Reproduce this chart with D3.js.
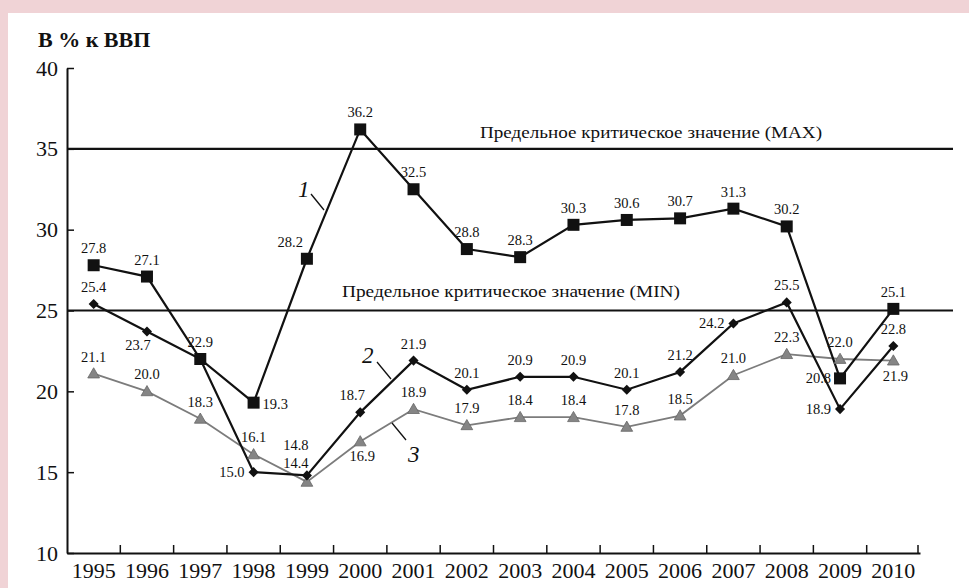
<!DOCTYPE html>
<html>
<head>
<meta charset="utf-8">
<script src="https://cdn.jsdelivr.net/npm/d3@7"></script>
<style>
  body { margin: 0; background: #f0d3d6; }
  svg { display: block; }
</style>
</head>
<body>
<script>
// years on the x axis
var years = ["1995","1996","1997","1998","1999","2000","2001","2002",
             "2003","2004","2005","2006","2007","2008","2009","2010"];

// series 1 (squares), 2 (diamonds), 3 (triangles), % of GDP
var s1 = [27.8, 27.1, 22.0, 19.3, 28.2, 36.2, 32.5, 28.8, 28.3, 30.3, 30.6, 30.7, 31.3, 30.2, 20.8, 25.1];
var s2 = [25.4, 23.7, 22.0, 15.0, 14.8, 18.7, 21.9, 20.1, 20.9, 20.9, 20.1, 21.2, 24.2, 25.5, 18.9, 22.8];
var s3 = [21.1, 20.0, 18.3, 16.1, 14.4, 16.9, 18.9, 17.9, 18.4, 18.4, 17.8, 18.5, 21.0, 22.3, 22.0, 21.9];

// printed labels (the 1997 square is printed as 22.9, diamond 1997 has none)
var s1Text = ["27.8","27.1","22.9","19.3","28.2","36.2","32.5","28.8","28.3","30.3","30.6","30.7","31.3","30.2","20.8","25.1"];
var s2Text = ["25.4","23.7","","15.0","14.8","18.7","21.9","20.1","20.9","20.9","20.1","21.2","24.2","25.5","18.9","22.8"];
var s3Text = ["21.1","20.0","18.3","16.1","14.4","16.9","18.9","17.9","18.4","18.4","17.8","18.5","21.0","22.3","22.0","21.9"];

var yTicks = [10, 15, 20, 25, 30, 35, 40];
var critMax = 35, critMin = 25;
var critMaxText = "Предельное критическое значение (MAX)";
var critMinText = "Предельное критическое значение (MIN)";
var yTitle = "В % к ВВП";

var FONT = "'Liberation Serif', 'Times New Roman', serif";

// where each value label sits relative to its marker
var place = {
  t:   {a: "middle", dx: 0,   dy: -12},
  b:   {a: "middle", dx: 2,   dy: 20},
  l:   {a: "end",    dx: -9,  dy: 5},
  r:   {a: "start",  dx: 9,   dy: 6},
  lt:  {a: "end",    dx: -4,  dy: -12},
  bl:  {a: "middle", dx: -9,  dy: 18},
  tl:  {a: "middle", dx: -8,  dy: -12},
  tl2: {a: "middle", dx: -11, dy: -25},
  tl3: {a: "middle", dx: -11, dy: -14}
};
var p1 = ["t","t","t","r","lt","t","t","t","t","t","t","t","t","t","l","t"];
var p2 = ["t","bl","t","l","tl2","tl","t","t","t","t","t","t","l","t","l","t"];
var p3 = ["t","t","t","t","tl3","b","t","t","t","t","t","t","t","t","t","b"];

var W = 969, H = 588;
var svg = d3.select("body").append("svg").attr("width", W).attr("height", H)
  .style("font-family", FONT);

svg.append("rect").attr("width", W).attr("height", H).attr("fill", "#f0d3d6");
svg.append("rect").attr("x", 8).attr("y", 13).attr("width", W - 8).attr("height", H - 13).attr("fill", "#fff");

var x = d3.scaleBand().domain(years).range([67, 920]).paddingInner(0).paddingOuter(0);
var y = d3.scaleLinear().domain([10, 40]).range([553, 68]);
var cx = function(i){ return x(years[i]) + x.bandwidth() / 2; };

// y axis
var gy = svg.append("g").attr("transform", "translate(67,0)")
  .call(d3.axisLeft(y).tickValues(yTicks).tickSizeInner(-7).tickSizeOuter(0).tickPadding(9))
  .attr("font-family", null);
gy.select(".domain").attr("stroke", "#111").attr("stroke-width", 2);
gy.selectAll(".tick line").attr("stroke", "#111").attr("stroke-width", 1.5);
gy.selectAll(".tick text").attr("font-size", 22).attr("fill", "#111");

// x axis: labels centred on bands, ticks on band edges pointing up
var gx = svg.append("g").attr("transform", "translate(0,553)")
  .call(d3.axisBottom(x).tickSize(0).tickPadding(9))
  .attr("font-family", null);
gx.select(".domain").attr("stroke", "#111").attr("stroke-width", 2);
gx.selectAll(".tick text").attr("font-size", 22).attr("fill", "#111");
var edges = years.slice(1).map(function(d){ return x(d); }).concat([x.range()[1] - 2]);
gx.selectAll(".edge").data(edges).enter().append("line")
  .attr("x1", function(d){ return d; }).attr("x2", function(d){ return d; })
  .attr("y1", 0).attr("y2", -8).attr("stroke", "#111").attr("stroke-width", 1.5);

// critical level lines
[critMax, critMin].forEach(function(v){
  svg.append("line").attr("x1", 67).attr("x2", 953)
    .attr("y1", y(v)).attr("y2", y(v)).attr("stroke", "#111").attr("stroke-width", 2.2);
});
svg.append("text").attr("x", 480).attr("y", y(critMax) - 11).attr("fill", "#111")
  .attr("font-size", 17).attr("textLength", 342).attr("lengthAdjust", "spacingAndGlyphs").text(critMaxText);
svg.append("text").attr("x", 342).attr("y", y(critMin) - 14).attr("fill", "#111")
  .attr("font-size", 17).attr("textLength", 338).attr("lengthAdjust", "spacingAndGlyphs").text(critMinText);

// title
svg.append("text").attr("x", 38).attr("y", 47).attr("font-size", 22).attr("fill", "#111")
  .attr("font-weight", "bold").text(yTitle);

var line = d3.line().x(function(d, i){ return cx(i); }).y(function(d){ return y(d); });

svg.append("path").datum(s3).attr("d", line).attr("fill", "none").attr("stroke", "#7c7c7c").attr("stroke-width", 1.8);
svg.append("path").datum(s2).attr("d", line).attr("fill", "none").attr("stroke", "#111").attr("stroke-width", 2.2);
svg.append("path").datum(s1).attr("d", line).attr("fill", "none").attr("stroke", "#111").attr("stroke-width", 2.2);

// markers
svg.append("g").selectAll("path").data(s3).enter().append("path")
  .attr("d", d3.symbol().type(d3.symbolTriangle).size(60))
  .attr("transform", function(d, i){ return "translate(" + cx(i) + "," + (y(d) + 1) + ")"; })
  .attr("fill", "#858585").attr("stroke", "#666").attr("stroke-width", 0.8);
svg.append("g").selectAll("path").data(s2).enter().append("path")
  .attr("d", d3.symbol().type(d3.symbolDiamond2).size(65))
  .attr("transform", function(d, i){ return "translate(" + cx(i) + "," + y(d) + ")"; })
  .attr("fill", "#111");
svg.append("g").selectAll("rect").data(s1).enter().append("rect")
  .attr("x", function(d, i){ return cx(i) - 6; }).attr("y", function(d){ return y(d) - 6; })
  .attr("width", 12).attr("height", 12).attr("fill", "#111");

// value labels
function labels(vals, texts, places){
  svg.append("g").selectAll("text").data(vals).enter().append("text")
    .attr("font-size", 14.5).attr("fill", "#111")
    .attr("x", function(d, i){ return cx(i) + place[places[i]].dx; })
    .attr("y", function(d, i){ return y(d) + place[places[i]].dy; })
    .attr("text-anchor", function(d, i){ return place[places[i]].a; })
    .text(function(d, i){ return texts[i]; });
}
labels(s1, s1Text, p1);
labels(s2, s2Text, p2);
labels(s3, s3Text, p3);

// series numbers with leader lines
var tags = [
  {t: "1", x: 298, y: 197, x1: 311, y1: 194, x2: 324, y2: 210},
  {t: "2", x: 362, y: 363, x1: 377, y1: 362, x2: 391, y2: 379},
  {t: "3", x: 408, y: 462, x1: 392, y1: 423, x2: 406, y2: 440}
];
tags.forEach(function(d){
  svg.append("line").attr("x1", d.x1).attr("y1", d.y1).attr("x2", d.x2).attr("y2", d.y2)
    .attr("stroke", "#111").attr("stroke-width", 1.3);
  svg.append("text").attr("x", d.x).attr("y", d.y).attr("font-size", 23).attr("fill", "#111")
    .attr("font-style", "italic").text(d.t);
});
</script>
</body>
</html>
